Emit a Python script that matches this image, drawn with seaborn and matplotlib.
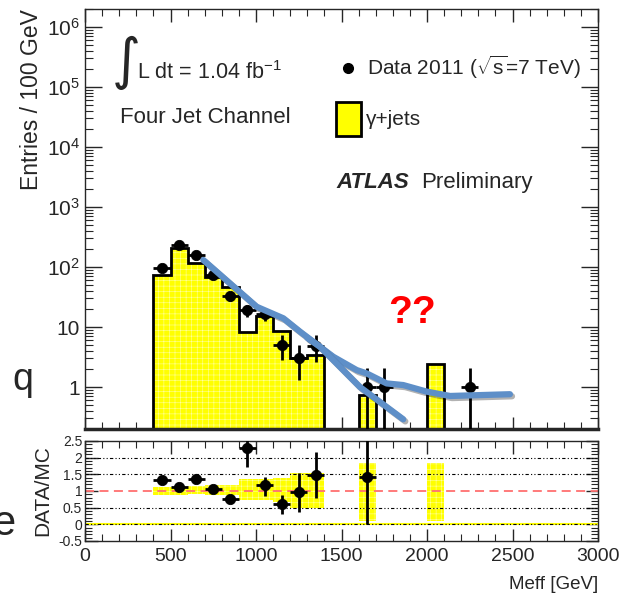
import numpy as np
import seaborn as sns
import matplotlib.pyplot as plt
import matplotlib.ticker as mticker
import matplotlib.patheffects as pe
from matplotlib.patches import Rectangle
from matplotlib.lines import Line2D

# 100 GeV bins, 0 - 3000 GeV
bin_edges = np.arange(0, 3100, 100)

# gamma+jets MC (entries / 100 GeV)
mc_counts = [0, 0, 0, 0, 74, 205, 118, 69, 46, 8.4, 15, 8.6, 3.0, 3.4, 0,
             0, 0.74, 0, 0, 0, 2.4, 0, 0, 0, 0, 0, 0, 0, 0, 0]

# MC uncertainty band in the ratio panel
band_lo = [0, 0, 0, 0, 0.88, 0.88, 0.9, 0.88, 0.88, 0.73, 0.73, 0.68, 0.48, 0.48, 0,
           0, 0.11, 0, 0, 0, 0.11, 0, 0, 0, 0, 0, 0, 0, 0, 0]
band_hi = [0, 0, 0, 0, 1.12, 1.12, 1.15, 1.18, 1.18, 1.35, 1.35, 1.38, 1.53, 1.53, 0,
           0, 1.85, 0, 0, 0, 1.85, 0, 0, 0, 0, 0, 0, 0, 0, 0]

# Data 2011
data_x = [450, 550, 650, 750, 850, 950, 1050, 1150, 1250, 1350, 1650, 1750, 2250]
data_y = [95, 232, 158, 73, 33, 19, 16.5, 5.0, 3.0, 4.8, 1.0, 1.0, 1.0]
data_err_lo = [10, 15, 13, 9, 6, 4.4, 4, 2.2, 1.7, 2.2, 0.83, 0.83, 0.83]
data_err_hi = [10, 15, 13, 9, 6, 4.4, 4, 2.4, 2.0, 2.5, 1.1, 1.1, 1.1]

# DATA/MC
ratio_x = [450, 550, 650, 750, 850, 950, 1050, 1150, 1250, 1350, 1650]
ratio_y = [1.33, 1.13, 1.35, 1.07, 0.75, 2.28, 1.18, 0.61, 0.98, 1.48, 1.43]
ratio_lo = [0.08, 0.07, 0.07, 0.08, 0.07, 0.55, 0.33, 0.3, 0.6, 0.7, 1.43]
ratio_hi = [0.08, 0.07, 0.07, 0.08, 0.07, 0.3, 0.25, 0.27, 0.57, 0.69, 1.2]

# hand drawn blue guide lines (GeV, entries)
lineA_x = [692, 1004, 1160, 1257, 1374, 1452, 1589, 1647, 1764, 1861, 1998, 2135, 2485]
lineA_y = [131, 21.8, 14, 8.4, 4.7, 3.2, 1.92, 1.69, 1.15, 1.08, 0.84, 0.71, 0.76]
lineB_x = [1300, 1374, 1608, 1861]
lineB_y = [6.6, 4.7, 1.0, 0.29]

sns.set_style("ticks")
plt.rcParams['font.family'] = ['Liberation Sans', 'DejaVu Sans']
plt.rcParams['mathtext.fontset'] = 'custom'
plt.rcParams['mathtext.rm'] = 'Liberation Sans'
plt.rcParams['mathtext.it'] = 'Liberation Sans:italic'
plt.rcParams['mathtext.bf'] = 'Liberation Sans:bold'
plt.rcParams['xtick.direction'] = 'in'
plt.rcParams['ytick.direction'] = 'in'
plt.rcParams['hatch.linewidth'] = 0.4

yellow = '#ffff00'
hatch_col = '#ffffa0'

W, H = 622, 595
fig = plt.figure(figsize=(W / 100, H / 100), dpi=100)
ax = fig.add_axes([85 / W, 1 - 429 / H, 513 / W, 420 / H])
ax2 = fig.add_axes([85 / W, 1 - 541 / H, 513 / W, 100 / H])

# ---- top panel ----
ax.set_yscale('log')
mc_plot = np.where(np.array(mc_counts) > 0, mc_counts, 1e-3)
ax.stairs(mc_plot, bin_edges, fill=True, baseline=1e-3, facecolor=yellow,
          edgecolor=hatch_col, hatch='+++', lw=0, zorder=1)
ax.stairs(mc_plot, bin_edges, fill=False, baseline=1e-3, color='black', lw=2, zorder=2)

ax.errorbar(data_x, data_y, xerr=50, yerr=[data_err_lo, data_err_hi], fmt='none',
            ecolor='black', elinewidth=2, capsize=0, zorder=4)
sns.scatterplot(x=data_x, y=data_y, ax=ax, color='black', s=55, edgecolor='black',
                zorder=5, legend=False)

shadow = [pe.SimpleLineShadow(offset=(1.5, -1.5), alpha=0.3), pe.Normal()]
for lx, ly in [(lineA_x, lineA_y), (lineB_x, lineB_y)]:
    sns.lineplot(x=lx, y=ly, ax=ax, sort=False, estimator=None, color='#5e8fc8',
                 lw=4.5, zorder=6, path_effects=shadow, solid_capstyle='round')

ax.set_xlim(0, 3000)
ax.set_ylim(0.2, 2e6)
ax.set_yticks([1, 10, 1e2, 1e3, 1e4, 1e5, 1e6])
ax.set_yticklabels(['1', '10', '$10^{2}$', '$10^{3}$', '$10^{4}$', '$10^{5}$', '$10^{6}$'],
                   fontsize=15)
ax.yaxis.set_minor_locator(mticker.LogLocator(base=10, subs=np.arange(2, 10)))
ax.yaxis.set_minor_formatter(mticker.NullFormatter())
ax.xaxis.set_major_locator(mticker.MultipleLocator(500))
ax.xaxis.set_minor_locator(mticker.MultipleLocator(100))
ax.tick_params(which='both', top=True, right=True, labelbottom=False)
ax.tick_params(axis='y', which='major', length=12, width=1)
ax.tick_params(axis='y', which='minor', length=6, width=0.8)
ax.tick_params(axis='x', which='major', length=9, width=1)
ax.tick_params(axis='x', which='minor', length=5, width=0.8)
for s in ax.spines.values():
    s.set_linewidth(1)
ax.spines['bottom'].set_linewidth(2.5)
ax.set_ylabel('Entries / 100 GeV', fontsize=16.5, loc='top')
ax.yaxis.set_label_coords(-0.082, 1.0)

# ---- ratio panel ----
ax2.stairs(band_hi, bin_edges, baseline=band_lo, fill=True, facecolor=yellow,
           edgecolor=hatch_col, hatch='+++', lw=0, zorder=1)
ax2.axhline(0, color=yellow, lw=1.5, zorder=1)
for g in [0, 0.5, 1.5, 2]:
    ax2.axhline(g, color='black', lw=0.8, ls=(0, (3, 2, 1, 2, 1, 2)), zorder=2)
ax2.axhline(1, color='#ff7070', lw=1.3, ls=(0, (5, 3)), zorder=2)
ax2.errorbar(ratio_x, ratio_y, xerr=50, yerr=[ratio_lo, ratio_hi], fmt='none',
             ecolor='black', elinewidth=2, capsize=0, zorder=4)
sns.scatterplot(x=ratio_x, y=ratio_y, ax=ax2, color='black', s=55, edgecolor='black',
                zorder=5, legend=False)
ax2.set_xlim(0, 3000)
ax2.set_ylim(-0.5, 2.5)
ax2.set_yticks([-0.5, 0, 0.5, 1, 1.5, 2, 2.5])
ax2.yaxis.set_major_formatter(mticker.FormatStrFormatter('%g'))
ax2.yaxis.set_minor_locator(mticker.MultipleLocator(0.1))
ax2.xaxis.set_major_locator(mticker.MultipleLocator(500))
ax2.xaxis.set_minor_locator(mticker.MultipleLocator(100))
ax2.tick_params(which='both', top=True, right=True)
ax2.tick_params(axis='y', which='major', length=9, width=1, labelsize=10, pad=2)
ax2.tick_params(axis='y', which='minor', length=5, width=0.8)
ax2.tick_params(axis='x', which='major', length=9, width=1, labelsize=14, pad=5)
ax2.tick_params(axis='x', which='minor', length=5, width=0.8)
for s in ax2.spines.values():
    s.set_linewidth(1)
ax2.set_ylabel('DATA/MC', fontsize=15)
ax2.yaxis.set_label_coords(-0.064, 0.5)
ax2.set_xlabel('Meff [GeV]', fontsize=13.5, loc='right', labelpad=8)

# ---- labels and legend ----
fig.text(112 / W, 1 - 63 / H, '\u222b', fontsize=40, family='DejaVu Sans',
         ha='left', va='center')
fig.text(137 / W, 1 - 79 / H, 'L dt = 1.04 fb$^{-1}$', fontsize=15.5, ha='left',
         va='baseline')
fig.text(120 / W, 1 - 123 / H, 'Four Jet Channel', fontsize=16, ha='left', va='baseline')

fig.add_artist(Line2D([348 / W], [1 - 68 / H], marker='o', color='black', ms=7,
                      transform=fig.transFigure))
fig.text(367 / W, 1 - 75 / H, r'Data 2011 ($\sqrt{\mathrm{s}}$=7 TeV)', fontsize=15,
         ha='left', va='baseline')
fig.add_artist(Rectangle((336 / W, 1 - 136 / H), 25 / W, 34 / H, facecolor=yellow,
                         edgecolor='black', lw=2, transform=fig.transFigure))
fig.text(366 / W, 1 - 125 / H, '\u03b3+jets', fontsize=15, ha='left', va='baseline')
fig.text(336 / W, 1 - 188 / H, 'ATLAS', fontsize=16, fontweight='bold', style='italic',
         ha='left', va='baseline')
fig.text(421 / W, 1 - 188 / H, 'Preliminary', fontsize=16, ha='left', va='baseline')

fig.text(412 / W, 1 - 313 / H, '??', fontsize=28, fontweight='bold', color='red',
         ha='center', va='center')
fig.text(23 / W, 1 - 390 / H, 'q', fontsize=27, ha='center', va='baseline')
fig.text(-8 / W, 1 - 535 / H, 'e', fontsize=30, ha='left', va='baseline')

fig.savefig('out.png', dpi=100)
